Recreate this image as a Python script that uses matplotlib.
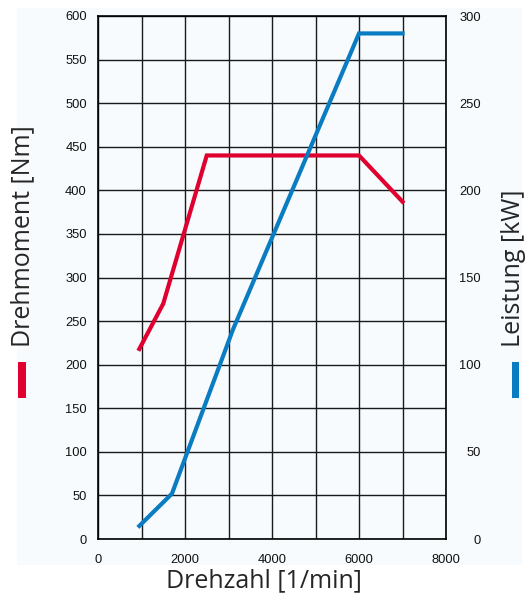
import matplotlib
matplotlib.use("Agg")
import matplotlib.pyplot as plt
from matplotlib.patches import Rectangle

# engine curves
drehzahl_moment = [950, 1500, 2500, 6000, 7000]
drehmoment = [218, 270, 440, 440, 387]
drehzahl_leistung = [950, 1700, 3100, 6000, 7000]
leistung = [7.5, 26, 120, 290, 290]

left_ticks = list(range(0, 601, 50))
right_ticks = list(range(0, 301, 50))
x_ticks = [0, 2000, 4000, 6000, 8000]

RED = "#df0030"
BLUE = "#0a7cc1"
W, H = 528, 594

fig = plt.figure(figsize=(W / 100, H / 100), dpi=100)
fig.patch.set_facecolor("white")

# light panel behind the chart
fig.patches.append(Rectangle((17 / W, 1 - 565 / H), (522 - 17) / W, (565 - 8) / H,
                             transform=fig.transFigure, facecolor="#f7fbfd",
                             edgecolor="none", zorder=-10))

ax = fig.add_axes([98 / W, 1 - 539 / H, (446 - 98) / W, (539 - 16) / H])
ax.set_facecolor("none")
ax.set_xlim(0, 8000)
ax.set_ylim(0, 600)
ax.set_xticks(x_ticks)
ax.set_xticks(range(0, 8001, 1000), minor=True)
ax.set_yticks(left_ticks)
ax.grid(True, which="both", color="#1a1a1a", linewidth=1.0)
ax.tick_params(which="both", length=0, labelsize=9.3)
ax.tick_params(axis="x", pad=11)
ax.tick_params(axis="y", pad=8)
for s in ax.spines.values():
    s.set_color("black")
    s.set_linewidth(1.2)

ax2 = ax.twinx()
ax2.set_ylim(0, 300)
ax2.set_yticks(right_ticks)
ax2.tick_params(length=0, labelsize=9.3, pad=25)
for lbl in ax2.get_yticklabels():
    lbl.set_horizontalalignment("right")
for s in ax2.spines.values():
    s.set_visible(False)

ax.plot(drehzahl_moment, drehmoment, color=RED, linewidth=3, solid_joinstyle="miter", zorder=3)
ax2.plot(drehzahl_leistung, leistung, color=BLUE, linewidth=3, solid_joinstyle="miter", zorder=3)

for a in (ax, ax2):
    for lbl in a.get_xticklabels() + a.get_yticklabels():
        lbl.set_fontfamily("Liberation Sans")
        lbl.set_color("#111111")

title_font = dict(family="Open Sans", fontsize=18, color="#262626")
fig.text(264 / W, 1 - 587 / H, "Drehzahl [1/min]", ha="center", va="baseline", **title_font)
fig.text(23 / W, 1 - 347 / H, "Drehmoment [Nm]", rotation=90, ha="center", va="bottom", **title_font)
fig.text(514 / W, 1 - 347 / H, "Leistung [kW]", rotation=90, ha="center", va="bottom", **title_font)

fig.patches.append(Rectangle((18 / W, 1 - 398 / H), 8 / W, 36 / H, transform=fig.transFigure,
                             facecolor=RED, edgecolor="none"))
fig.patches.append(Rectangle((512 / W, 1 - 398 / H), 7 / W, 36 / H, transform=fig.transFigure,
                             facecolor=BLUE, edgecolor="none"))

fig.savefig("out.png", dpi=100)
